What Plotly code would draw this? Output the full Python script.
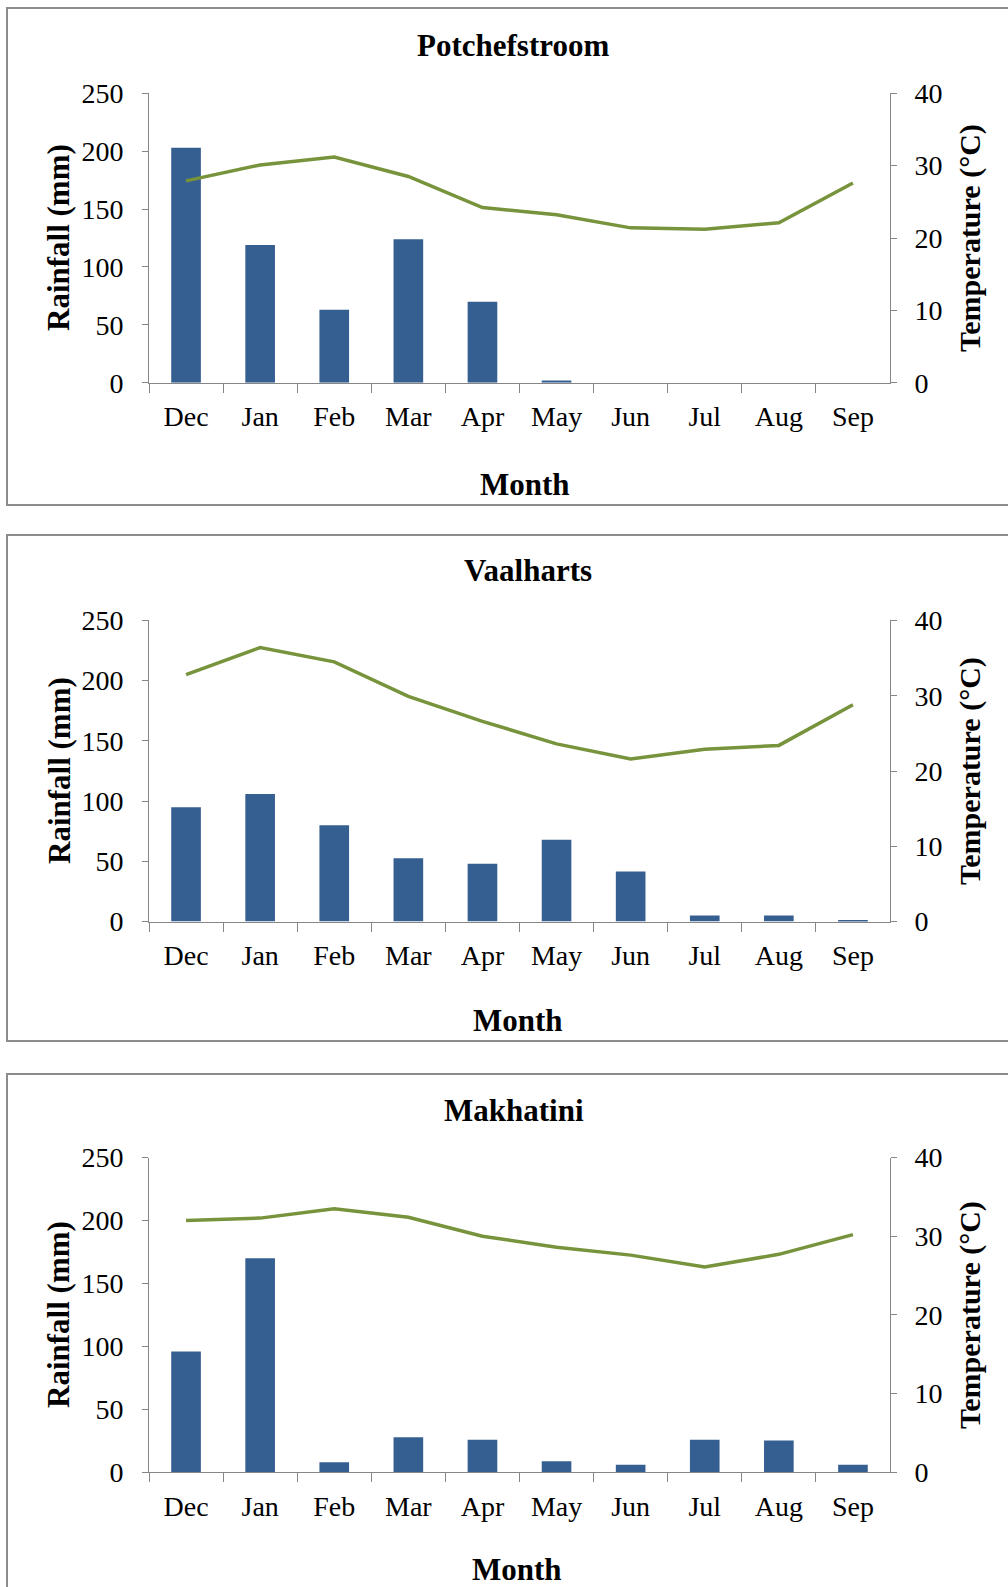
import plotly.graph_objects as go

W, H = 1008, 1587

months = ["Dec", "Jan", "Feb", "Mar", "Apr", "May", "Jun", "Jul", "Aug", "Sep"]
stations = ["Potchefstroom", "Vaalharts", "Makhatini"]

# Monthly rainfall (mm) and mean temperature (°C) per station
potch_rain = [203, 119, 63, 124, 70, 2, 0, 0, 0, 0]
potch_temp = [27.9, 30.1, 31.2, 28.5, 24.2, 23.2, 21.4, 21.2, 22.1, 27.6]
vaal_rain = [95, 106, 80, 52.5, 48, 68, 41.5, 5, 5, 1.4]
vaal_temp = [32.8, 36.4, 34.5, 29.9, 26.6, 23.6, 21.6, 22.9, 23.4, 28.8]
makh_rain = [96, 170, 8, 28, 26, 8.8, 6, 26, 25.3, 6]
makh_temp = [32.0, 32.3, 33.5, 32.4, 30.0, 28.6, 27.6, 26.1, 27.7, 30.2]

rain_ticks = [0, 50, 100, 150, 200, 250]
temp_ticks = [0, 10, 20, 30, 40]

rain = [potch_rain, vaal_rain, makh_rain]
temp = [potch_temp, vaal_temp, makh_temp]

# Panel geometry in pixels: plot top/bottom, frame top/bottom, title pos, x-title pos
panels = [
    dict(top=93.3, bot=382.7, ftop=8, fbot=505, tx=513, ty=45, mx=525, my=485),
    dict(top=620.4, bot=921.6, ftop=535, fbot=1041, tx=528, ty=570, mx=518, my=1020),
    dict(top=1157.5, bot=1472.4, ftop=1074, fbot=1610, tx=514, ty=1110, mx=517, my=1569),
]
PLOT_L, PLOT_R = 149, 890

BAR = "#365F91"
LINE = "#77933C"
AXIS = "#868686"
FONT = "Liberation Serif, Times New Roman, serif"


def px(x):
    return x / W


def py(y):
    return 1 - y / H


fig = go.Figure()
shapes, annotations = [], []
layout = {}
tickfont = dict(family=FONT, size=28, color="#000")

for i, name in enumerate(stations):
    p = panels[i]
    xa = "x" if i == 0 else f"x{i + 1}"
    ya_l = f"y{2 * i + 1}" if i > 0 else "y"
    ya_r = f"y{2 * i + 2}"

    fig.add_trace(go.Bar(x=months, y=rain[i], marker=dict(color=BAR, line=dict(width=0)),
                         xaxis=xa, yaxis=ya_l, showlegend=False))
    fig.add_trace(go.Scatter(x=months, y=temp[i], mode="lines",
                             line=dict(color=LINE, width=3.5),
                             xaxis=xa, yaxis=ya_r, showlegend=False))

    dom_y = [py(p["bot"]), py(p["top"])]
    xkey = "xaxis" if i == 0 else f"xaxis{i + 1}"
    ylkey = "yaxis" if i == 0 else f"yaxis{2 * i + 1}"
    yrkey = f"yaxis{2 * i + 2}"

    layout[xkey] = dict(
        domain=[px(PLOT_L), px(PLOT_R)], anchor=ya_l, type="category", automargin=False,
        showline=True, linecolor=AXIS, linewidth=1, mirror=False,
        ticks="outside", tickson="boundaries", ticklen=9, tickcolor=AXIS, tickwidth=1,
        tickfont=tickfont, ticklabelstandoff=9,
        showgrid=False, zeroline=False, fixedrange=True,
    )
    layout[ylkey] = dict(
        domain=dom_y, anchor=xa, range=[0, 250], tickvals=rain_ticks, automargin=False,
        showline=True, linecolor=AXIS, linewidth=1,
        ticks="outside", ticklen=6, tickcolor=AXIS, tickwidth=1,
        tickfont=tickfont, ticklabelstandoff=13,
        showgrid=False, zeroline=False, fixedrange=True,
    )
    layout[yrkey] = dict(
        domain=dom_y, anchor=xa, overlaying=ya_l, side="right", range=[0, 40],
        tickvals=temp_ticks, automargin=False,
        showline=True, linecolor=AXIS, linewidth=1,
        ticks="outside", ticklen=6, tickcolor=AXIS, tickwidth=1,
        tickfont=tickfont, ticklabelstandoff=12,
        showgrid=False, zeroline=False, fixedrange=True,
    )

    # Panel frame
    shapes.append(dict(type="rect", xref="paper", yref="paper",
                       x0=px(7), x1=px(1020), y0=py(p["fbot"]), y1=py(p["ftop"]),
                       line=dict(color="#8C8C8C", width=2), fillcolor="rgba(0,0,0,0)"))

    bold = dict(family=FONT, size=31, color="#000")
    mid = (p["top"] + p["bot"]) / 2
    annotations += [
        dict(text=f"<b>{name}</b>", x=px(p["tx"]), y=py(p["ty"]), xref="paper", yref="paper",
             showarrow=False, font=bold, xanchor="center", yanchor="middle"),
        dict(text="<b>Month</b>", x=px(p["mx"]), y=py(p["my"]), xref="paper", yref="paper",
             showarrow=False, font=bold, xanchor="center", yanchor="middle"),
        dict(text="<b>Rainfall (mm)</b>", x=px(59), y=py(mid), xref="paper", yref="paper",
             showarrow=False, font=bold, textangle=-90, xanchor="center", yanchor="middle"),
        dict(text="<b>Temperature (°C)</b>", x=px(970), y=py(mid), xref="paper", yref="paper",
             showarrow=False, font=dict(family=FONT, size=30, color="#000"),
             textangle=-90, xanchor="center", yanchor="middle"),
    ]

fig.update_layout(
    width=W, height=H, margin=dict(l=0, r=0, t=0, b=0, autoexpand=False),
    paper_bgcolor="white", plot_bgcolor="white",
    bargap=0.6, shapes=shapes, annotations=annotations,
    showlegend=False, **layout,
)

fig.write_html("out.html", config={"displayModeBar": False})
